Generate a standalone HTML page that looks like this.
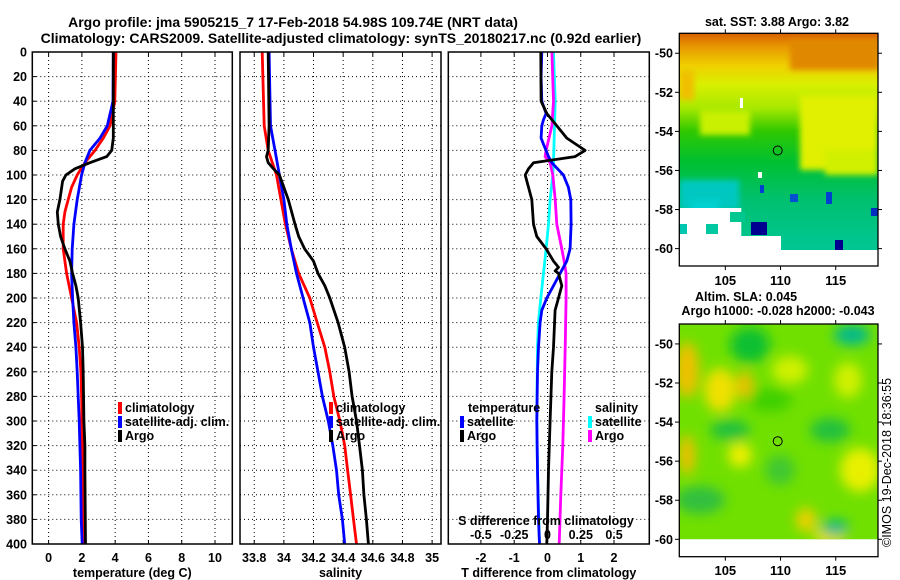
<!DOCTYPE html>
<html><head><meta charset="utf-8">
<style>
html,body{margin:0;padding:0;background:#fff;}
svg{display:block;font-family:"Liberation Sans",Arial,sans-serif;}
.b{font-weight:bold;}
</style></head>
<body>
<svg id="fig" width="900" height="580" viewBox="0 0 900 580">
<defs>
<filter id="bl" x="-50%" y="-50%" width="200%" height="200%"><feGaussianBlur stdDeviation="6"/></filter>
<filter id="bl2" x="-50%" y="-50%" width="200%" height="200%"><feGaussianBlur stdDeviation="3"/></filter>
<linearGradient id="sstg" x1="0" y1="0" x2="0" y2="1">
<stop offset="0" stop-color="#d86000"/><stop offset="0.06" stop-color="#e89a00"/>
<stop offset="0.14" stop-color="#f0d000"/><stop offset="0.22" stop-color="#d8f000"/>
<stop offset="0.32" stop-color="#a8e800"/><stop offset="0.42" stop-color="#30c800"/>
<stop offset="0.55" stop-color="#00c030"/><stop offset="0.72" stop-color="#00c070"/>
<stop offset="1" stop-color="#00c8a0"/></linearGradient>
<clipPath id="c1"><rect x="679.3" y="33.3" width="198.7" height="232.7"/></clipPath>
<clipPath id="c2"><rect x="679.3" y="324" width="198.7" height="215.3"/></clipPath>
</defs>
<g class="b" font-size="14" text-anchor="middle">
<text x="293" y="27">Argo profile: jma 5905215_7 17-Feb-2018 54.98S 109.74E (NRT data)</text>
<text x="341" y="43">Climatology: CARS2009. Satellite-adjusted climatology: synTS_20180217.nc (0.92d earlier)</text>
</g>
<g id="panels"></g>
<g id="maps">
<text x="777" y="26" class="b" font-size="12.5" text-anchor="middle">sat. SST: 3.88 Argo: 3.82</text>
<g clip-path="url(#c1)">
<rect x="679.3" y="33.3" width="198.7" height="232.7" fill="url(#sstg)"/>
<g filter="url(#bl2)">
<rect x="790" y="40" width="90" height="30" fill="#e08800"/>
<rect x="800" y="95" width="78" height="75" fill="#e0f000"/>
<rect x="825" y="150" width="53" height="25" fill="#d0f000"/>
<rect x="700" y="110" width="50" height="25" fill="#c8f000"/>
<rect x="679.3" y="70" width="15" height="30" fill="#f0c000"/>
<rect x="679.3" y="180" width="60" height="30" fill="#00c8c0"/>
<rect x="690" y="200" width="30" height="15" fill="#00d0d0"/>
</g>
<rect x="679.3" y="208" width="62" height="60" fill="#fff"/>
<rect x="679" y="224" width="8" height="10" fill="#00c8b0"/>
<rect x="706" y="224" width="12" height="10" fill="#00c8a0"/>
<rect x="730" y="212" width="15" height="10" fill="#00c890"/>
<rect x="741" y="236" width="40" height="32" fill="#fff"/>
<rect x="780" y="250" width="100" height="18" fill="#fff"/>
<rect x="751" y="222" width="16" height="13" fill="#000090"/>
<rect x="835" y="240" width="8" height="10" fill="#000090"/>
<rect x="871" y="208" width="7" height="8" fill="#0030c0"/>
<rect x="826" y="192" width="6" height="12" fill="#0040d0"/>
<rect x="790" y="194" width="8" height="8" fill="#0050d0"/>
<rect x="760" y="185" width="4" height="8" fill="#0040d0"/>
<rect x="758" y="172" width="4" height="6" fill="#fff"/>
<rect x="740" y="98" width="3" height="10" fill="#fff"/>
</g>
<rect x="679.3" y="33.3" width="198.7" height="232.7" fill="none" stroke="#000" stroke-width="1.3"/>
<circle cx="777.7" cy="150.5" r="4.5" fill="none" stroke="#000" stroke-width="1"/>
<text x="746" y="301" class="b" font-size="12.5" text-anchor="middle">Altim. SLA: 0.045</text>
<text x="778" y="315" class="b" font-size="12.5" text-anchor="middle">Argo h1000: -0.028 h2000: -0.043</text>
<g clip-path="url(#c2)">
<rect x="679.3" y="324" width="198.7" height="216" fill="#70e000"/>
<g filter="url(#bl)">
<ellipse cx="687" cy="370" rx="12" ry="28" fill="#f0c000"/>
<ellipse cx="720" cy="390" rx="16" ry="22" fill="#f0e000"/>
<ellipse cx="745" cy="385" rx="8" ry="14" fill="#f0c000"/>
<ellipse cx="740" cy="455" rx="12" ry="12" fill="#f0f000"/>
<ellipse cx="687" cy="455" rx="8" ry="20" fill="#f0c000"/>
<ellipse cx="790" cy="370" rx="18" ry="14" fill="#d0f000"/>
<ellipse cx="848" cy="380" rx="14" ry="18" fill="#d0f000"/>
<ellipse cx="860" cy="470" rx="20" ry="22" fill="#e8f000"/>
<ellipse cx="830" cy="535" rx="16" ry="10" fill="#f0e000"/>
<ellipse cx="806" cy="520" rx="10" ry="12" fill="#f0d000"/>
<ellipse cx="770" cy="400" rx="22" ry="12" fill="#40d000"/>
<ellipse cx="750" cy="345" rx="20" ry="18" fill="#10c030"/>
<ellipse cx="852" cy="335" rx="18" ry="10" fill="#00b890"/>
<ellipse cx="835" cy="528" rx="14" ry="8" fill="#00b890"/>
<ellipse cx="730" cy="430" rx="20" ry="10" fill="#20c040"/>
<ellipse cx="830" cy="430" rx="20" ry="12" fill="#20c040"/>
<ellipse cx="700" cy="500" rx="25" ry="14" fill="#30c040"/>
<ellipse cx="780" cy="470" rx="15" ry="15" fill="#40c830"/>
</g>
</g>
<rect x="679.3" y="324" width="198.7" height="232.7" fill="none" stroke="#000" stroke-width="1.3"/>
<circle cx="777.7" cy="441.2" r="4.5" fill="none" stroke="#000" stroke-width="1"/>
<text transform="translate(891,547) rotate(-90)" font-size="12.5">©IMOS 19-Dec-2018 18:36:55</text>
</g>
<g id="mapaxes"></g>
</svg>
<script>
// ---- data ----
const depthT = [0,40,60,70,80,90,100,110,120,130,140,160,180,200,220,240,260,280,300,340,400];
const tClim = [4.05,3.98,3.69,3.29,2.79,2.18,1.72,1.38,1.18,0.98,0.88,0.88,1.08,1.38,1.68,1.84,1.94,1.98,2.0,2.05,2.1];
const depthTS = [0,40,60,70,80,90,100,120,140,160,180,200,220,240,260,280,300,320,340,380,400];
const tSat = [3.89,3.87,3.53,3.09,2.48,2.18,1.98,1.72,1.52,1.42,1.38,1.44,1.52,1.64,1.72,1.78,1.84,1.88,1.92,1.96,2.02];
const depthTA = [0,60,70,80,85,90,95,100,105,120,130,140,150,160,170,180,190,200,220,240,260,300,320,340,400];
const tArgo = [3.89,3.89,3.89,3.79,3.49,2.48,1.58,1.04,0.84,0.68,0.52,0.58,0.72,0.98,1.28,1.44,1.64,1.78,1.92,2.04,2.08,2.12,2.18,2.18,2.22];
const depthS = [0,60,80,100,120,140,160,180,200,220,240,260,280,300,320,340,360,380,400];
const sClim = [33.854,33.867,33.894,33.95,33.98,34.01,34.05,34.10,34.175,34.225,34.276,34.31,34.337,34.378,34.41,34.43,34.45,34.47,34.49];
const sSat = [33.90,33.91,33.94,33.97,34.0,34.02,34.05,34.085,34.13,34.175,34.20,34.23,34.26,34.30,34.33,34.355,34.37,34.395,34.41];
const depthSA = [0,60,80,85,90,95,100,120,140,150,160,170,180,190,200,220,240,260,280,300,320,340,360,380,400];
const sArgo = [33.894,33.90,33.894,33.883,33.894,33.93,33.97,34.03,34.075,34.10,34.14,34.20,34.23,34.276,34.31,34.366,34.41,34.44,34.46,34.49,34.51,34.53,34.54,34.557,34.57];
const depthDT = [0,20,40,50,55,60,70,75,80,85,90,100,110,120,140,160,170,180,190,200,210,220,240,260,300,340,380,400];
const dTSat = [-0.17,-0.19,-0.17,-0.04,-0.12,-0.17,-0.19,-0.12,-0.04,0.03,0.13,0.48,0.63,0.70,0.71,0.68,0.58,0.38,0.18,-0.02,-0.17,-0.22,-0.27,-0.30,-0.32,-0.30,-0.27,-0.24];
const depthDA = [0,40,50,60,70,80,85,90,95,100,110,120,140,150,160,170,175,178,180,190,200,210,240,260,300,340,380,400];
const dTArgo = [-0.2,-0.19,-0.02,0.28,0.58,1.13,0.83,-0.42,-0.57,-0.67,-0.57,-0.47,-0.42,-0.32,-0.04,0.18,0.33,0.23,0.33,0.43,0.33,0.23,0.18,0.13,0.08,0.03,0.0,-0.02];
const depthDS = [0,40,60,90,100,120,140,160,180,200,220,240,300,340,400];
const dSSat = [0.045,0.058,0.053,0.045,0.04,0.02,0.008,-0.01,-0.03,-0.05,-0.068,-0.075,-0.08,-0.075,-0.06];
const depthDSA = [0,40,60,80,85,90,100,120,140,160,170,180,200,240,280,320,360,400];
const dSArgo = [0.033,0.045,0.033,-0.01,-0.018,0.02,0.04,0.058,0.07,0.108,0.125,0.14,0.14,0.133,0.125,0.115,0.1,0.088];
const depthTicks = [0,20,40,60,80,100,120,140,160,180,200,220,240,260,280,300,320,340,360,380,400];
const tTicks = [0,2,4,6,8,10];
const sTicks = [33.8,34,34.2,34.4,34.6,34.8,35];
const dTTicks = [-2,-1,0,1,2];
const dSTicks = [-0.5,-0.25,0,0.25,0.5];
const dSTickLabels = ["-0.5","-0.25","0","0.25","0.5"];
const latTicks = [-50,-52,-54,-56,-58,-60];
const lonTicks = [105,110,115];

const NS='http://www.w3.org/2000/svg';
const fig=document.getElementById('panels');
function mk(tag,attrs,parent){const e=document.createElementNS(NS,tag);for(const k in attrs)e.setAttribute(k,attrs[k]);(parent||fig).appendChild(e);return e;}
const Y0=52,Y1=544;
const yD=d=>Y0+(d/400)*(Y1-Y0);
function lin(d0,d1,p0,p1){return v=>p0+(v-d0)/(d1-d0)*(p1-p0);}
const P=[
 {x0:32.3,x1:232.3,sc:lin(-0.98,11.04,32.3,232.3),ticks:tTicks,name:'temperature-panel',title:'temperature (deg C)'},
 {x0:240,x1:441,sc:lin(33.704,35.06,240,441),ticks:sTicks,name:'salinity-panel',title:'salinity'},
 {x0:448.3,x1:649.3,sc:lin(-2.98,3.06,448.3,649.3),ticks:dTTicks,name:'difference-panel',title:'T difference from climatology'}
];
const sDiff=lin(-0.745,0.765,448.3,649.3);
function path(g,xs,ds,sc,col,name){
  const p=mk('path',{d:xs.map((v,i)=>(i?'L':'M')+sc(v).toFixed(1)+' '+yD(ds[i]).toFixed(1)).join(' '),fill:'none',stroke:col,'stroke-width':2.8,'stroke-linejoin':'round'},g);
  
  
}
P.forEach((p,pi)=>{
  const g=mk('g',{});
  
  
  depthTicks.forEach(d=>{ if(d>0&&d<400) mk('line',{x1:p.x0,x2:p.x1,y1:yD(d),y2:yD(d),stroke:'#000','stroke-width':1,'stroke-dasharray':'1 3'},g);});
  p.ticks.forEach(t=>{const x=p.sc(t);
    mk('line',{x1:x,x2:x,y1:Y0,y2:Y1,stroke:'#000','stroke-width':1,'stroke-dasharray':'1 3'},g);
    mk('line',{x1:x,x2:x,y1:Y0,y2:Y0+4,stroke:'#000'},g);
    mk('line',{x1:x,x2:x,y1:Y1,y2:Y1-4,stroke:'#000'},g);
    const tl=mk('text',{x:x,y:562,'font-size':12.5,'font-weight':'bold','text-anchor':'middle'},g);tl.textContent=String(t);
    
    
  });
  if(pi===0){
    path(g,tClim,depthT,p.sc,'#f00','temp-climatology-line');
    path(g,tSat,depthTS,p.sc,'#00f','temp-satellite-line');
    path(g,tArgo,depthTA,p.sc,'#000','temp-argo-line');
    depthTicks.forEach(d=>{const t=mk('text',{x:27,y:yD(d)+4.5,'font-size':12.5,'font-weight':'bold','text-anchor':'end'},g);t.textContent=d;
      
      
      mk('line',{x1:p.x0,x2:p.x0+4,y1:yD(d),y2:yD(d),stroke:'#000'},g);});
  } else if(pi===1){
    path(g,sClim,depthS,p.sc,'#f00','sal-climatology-line');
    path(g,sSat,depthS,p.sc,'#00f','sal-satellite-line');
    path(g,sArgo,depthSA,p.sc,'#000','sal-argo-line');
  } else {
    path(g,dSSat,depthDS,sDiff,'#00ffff','sdiff-satellite-line');
    path(g,dSArgo,depthDSA,sDiff,'#ff00ff','sdiff-argo-line');
    path(g,dTSat,depthDT,p.sc,'#00f','tdiff-satellite-line');
    path(g,dTArgo,depthDA,p.sc,'#000','tdiff-argo-line');
    const st=mk('text',{x:546,y:525,'font-size':12.5,'font-weight':'bold','text-anchor':'middle'},g);st.textContent='S difference from climatology';
    
    
    dSTicks.forEach((v,i)=>{const t=mk('text',{x:sDiff(v),y:539,'font-size':12.5,'font-weight':'bold','text-anchor':'middle'},g);t.textContent=dSTickLabels[i];
      
      });
  }
  mk('rect',{x:p.x0,y:Y0,width:p.x1-p.x0,height:Y1-Y0,fill:'none',stroke:'#000','stroke-width':1.5},g);
  const at=mk('text',{x:(p.x0+p.x1)/2,y:577,'font-size':12.5,'font-weight':'bold','text-anchor':'middle'},g);at.textContent=p.title;
  
  
});
function legend(x,y,col,label){
  const g=mk('g',{});
  
  
  if(col) mk('rect',{x:x,y:y-10,width:4,height:12,fill:col},g);
  const t=mk('text',{x:x+7,y:y,'font-size':12.5,'font-weight':'bold'},g);t.textContent=label;
}
legend(118,412,'#f00','climatology');legend(118,426,'#00f','satellite-adj. clim.');legend(118,440,'#000','Argo');
legend(329,412,'#f00','climatology');legend(329,426,'#00f','satellite-adj. clim.');legend(329,440,'#000','Argo');
legend(461,412,null,'temperature');legend(460,426,'#00f','satellite');legend(460,440,'#000','Argo');
legend(588,412,null,'salinity');legend(588,426,'#00ffff','satellite');legend(588,440,'#ff00ff','Argo');
// map axes
const ma=document.getElementById('mapaxes');
const lonX=lin(100.83,118.83,679.3,878);
[[33.3,266,280],[324,556.7,570]].forEach(([top,bot,ly],mi)=>{
  const latY=lin(-48.98,-60.89,top,bot);
  latTicks.forEach(l=>{const y=latY(l);
    mk('line',{x1:679.3,x2:675,y1:y,y2:y,stroke:'#000'},ma);mk('line',{x1:878,x2:882,y1:y,y2:y,stroke:'#000'},ma);
    const t=mk('text',{x:673,y:y+4.5,'font-size':12.5,'font-weight':'bold','text-anchor':'end'},ma);t.textContent=String(l);
    
    });
  lonTicks.forEach(l=>{const x=lonX(l);
    mk('line',{x1:x,x2:x,y1:bot,y2:bot+4,stroke:'#000'},ma);mk('line',{x1:x,x2:x,y1:top,y2:top-4,stroke:'#000'},ma);
    const t=mk('text',{x:x,y:ly+5,'font-size':13,'font-weight':'bold','text-anchor':'middle'},ma);t.textContent=String(l);
    
    });
});
</script>
</body></html>
